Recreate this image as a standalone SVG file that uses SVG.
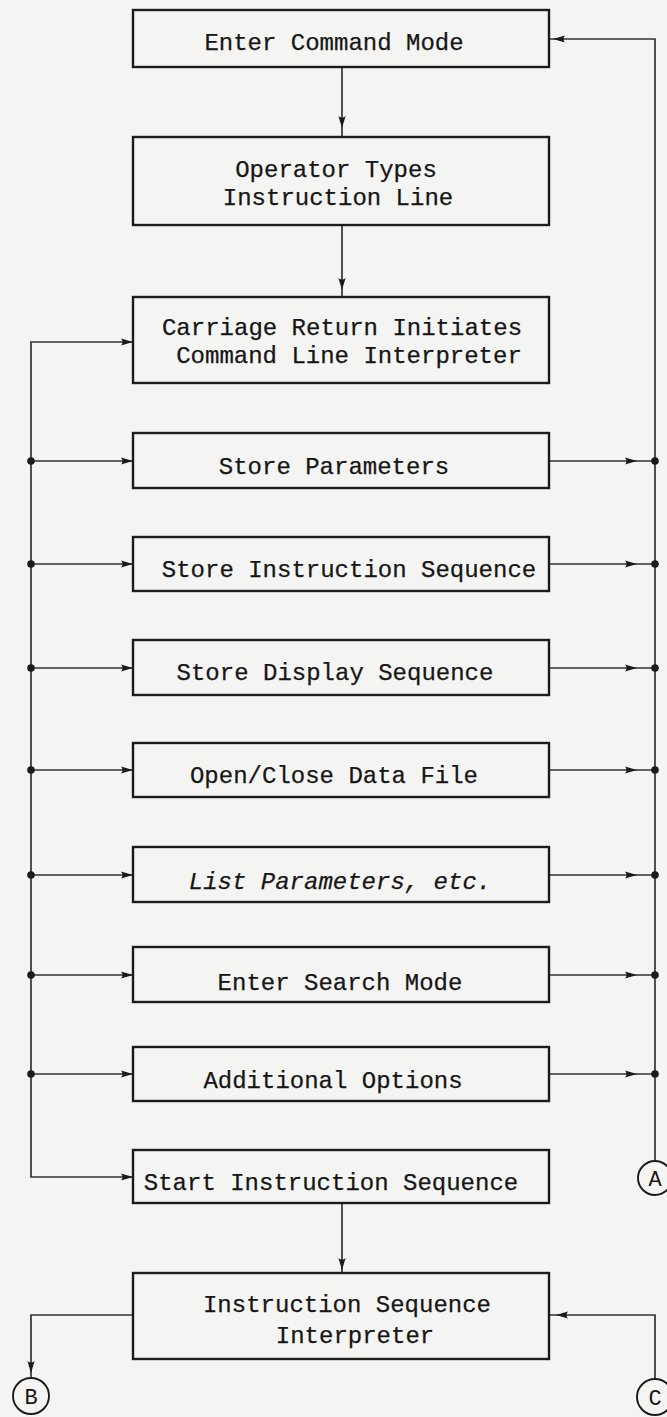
<svg xmlns="http://www.w3.org/2000/svg" width="667" height="1417" viewBox="0 0 667 1417">
  <style>
    .box { fill: none; stroke: #1b1b1b; stroke-width: 2.4; }
    .lbl { font-family: "Liberation Mono", "DejaVu Sans Mono", monospace; font-size: 24px; fill: #161616; text-anchor: middle; stroke: #161616; stroke-width: 0.25; }
    .it { font-style: italic; }
    .wire { fill: none; stroke: #333; stroke-width: 1.7; }
    .ahd { fill: #1b1b1b; }
    .con { fill: none; stroke: #1b1b1b; stroke-width: 1.9; }
    .conlbl { font-family: "Liberation Mono", "DejaVu Sans Mono", monospace; font-size: 22px; fill: #161616; text-anchor: middle; }
  </style>
  <defs>
    <!-- arrowhead, tip at origin, pointing along +x -->
    <path id="ah" d="M0,0 L-12,-3.6 Q-9,0 -12,3.6 Z"/>
    <circle id="dot" r="3.8"/>
  </defs>

  <rect x="0" y="0" width="667" height="1417" fill="#f4f4f2"/>

  <!-- connectors -->
  <g id="connectors">
    <!-- main flow -->
    <path class="wire" d="M342,67 V137"/>
    <path class="wire" d="M342,225 V297"/>
    <path class="wire" d="M342,1203 V1273"/>
    <!-- left distribution bus -->
    <path class="wire" d="M133,342 H31 V1177 H133"/>
    <path class="wire" d="M31,461 H133 M31,564 H133 M31,668 H133 M31,770 H133 M31,875 H133 M31,975 H133 M31,1074 H133"/>
    <!-- right return bus -->
    <path class="wire" d="M549,461 H655 M549,564 H655 M549,668 H655 M549,770 H655 M549,875 H655 M549,975 H655 M549,1074 H655"/>
    <path class="wire" d="M655,1161 V39 H549"/>
    <!-- interpreter exits -->
    <path class="wire" d="M133,1315 H31 V1378"/>
    <path class="wire" d="M655,1379 V1315 H549"/>

    <!-- arrowheads -->
    <g class="ahd">
      <use href="#ah" transform="translate(342,128) rotate(90)"/>
      <use href="#ah" transform="translate(342,290) rotate(90)"/>
      <use href="#ah" transform="translate(342,1270) rotate(90)"/>
      <use href="#ah" transform="translate(31,1373) rotate(90)"/>
      <use href="#ah" transform="translate(553,39) rotate(180)"/>
      <use href="#ah" transform="translate(556,1315) rotate(180)"/>
      <use href="#ah" transform="translate(133,342)"/>
      <use href="#ah" transform="translate(133,461)"/>
      <use href="#ah" transform="translate(133,564)"/>
      <use href="#ah" transform="translate(133,668)"/>
      <use href="#ah" transform="translate(133,770)"/>
      <use href="#ah" transform="translate(133,875)"/>
      <use href="#ah" transform="translate(133,975)"/>
      <use href="#ah" transform="translate(133,1074)"/>
      <use href="#ah" transform="translate(133,1177)"/>
      <use href="#ah" transform="translate(637,461)"/>
      <use href="#ah" transform="translate(637,564)"/>
      <use href="#ah" transform="translate(637,668)"/>
      <use href="#ah" transform="translate(637,770)"/>
      <use href="#ah" transform="translate(637,875)"/>
      <use href="#ah" transform="translate(637,975)"/>
      <use href="#ah" transform="translate(637,1074)"/>
      <!-- junction dots -->
      <use href="#dot" x="31" y="461"/>
      <use href="#dot" x="31" y="564"/>
      <use href="#dot" x="31" y="668"/>
      <use href="#dot" x="31" y="770"/>
      <use href="#dot" x="31" y="875"/>
      <use href="#dot" x="31" y="975"/>
      <use href="#dot" x="31" y="1074"/>
      <use href="#dot" x="655" y="461"/>
      <use href="#dot" x="655" y="564"/>
      <use href="#dot" x="655" y="668"/>
      <use href="#dot" x="655" y="770"/>
      <use href="#dot" x="655" y="875"/>
      <use href="#dot" x="655" y="975"/>
      <use href="#dot" x="655" y="1074"/>
    </g>
  </g>

  <!-- process boxes -->
  <g id="enter-command-mode">
    <rect class="box" x="133" y="10" width="416" height="57"/>
    <text class="lbl" x="334" y="50">Enter Command Mode</text>
  </g>
  <g id="operator-types">
    <rect class="box" x="133" y="137" width="416" height="88"/>
    <text class="lbl" x="336" y="177">Operator Types</text>
    <text class="lbl" x="338" y="205">Instruction Line</text>
  </g>
  <g id="command-line-interpreter">
    <rect class="box" x="133" y="297" width="416" height="86"/>
    <text class="lbl" x="342" y="335">Carriage Return Initiates</text>
    <text class="lbl" x="349" y="363">Command Line Interpreter</text>
  </g>
  <g id="store-parameters">
    <rect class="box" x="133" y="433" width="416" height="55"/>
    <text class="lbl" x="334" y="474">Store Parameters</text>
  </g>
  <g id="store-instruction-sequence">
    <rect class="box" x="133" y="537" width="416" height="54"/>
    <text class="lbl" x="349" y="577">Store Instruction Sequence</text>
  </g>
  <g id="store-display-sequence">
    <rect class="box" x="133" y="640" width="416" height="55"/>
    <text class="lbl" x="335" y="680">Store Display Sequence</text>
  </g>
  <g id="open-close-data-file">
    <rect class="box" x="133" y="743" width="416" height="54"/>
    <text class="lbl" x="334" y="783">Open/Close Data File</text>
  </g>
  <g id="list-parameters">
    <rect class="box" x="133" y="847" width="416" height="55"/>
    <text class="lbl it" x="340" y="889">List Parameters, etc.</text>
  </g>
  <g id="enter-search-mode">
    <rect class="box" x="133" y="947" width="416" height="55"/>
    <text class="lbl" x="340" y="990">Enter Search Mode</text>
  </g>
  <g id="additional-options">
    <rect class="box" x="133" y="1047" width="416" height="54"/>
    <text class="lbl" x="333" y="1088">Additional Options</text>
  </g>
  <g id="start-instruction-sequence">
    <rect class="box" x="133" y="1150" width="416" height="53"/>
    <text class="lbl" x="331" y="1190">Start Instruction Sequence</text>
  </g>
  <g id="instruction-sequence-interpreter">
    <rect class="box" x="133" y="1273" width="416" height="86"/>
    <text class="lbl" x="347" y="1312">Instruction Sequence</text>
    <text class="lbl" x="355" y="1343">Interpreter</text>
  </g>

  <!-- off-page connectors -->
  <g id="connector-a">
    <circle class="con" cx="655" cy="1178" r="17"/>
    <text class="conlbl" x="655" y="1186">A</text>
  </g>
  <g id="connector-b">
    <circle class="con" cx="31" cy="1396" r="18"/>
    <text class="conlbl" x="31" y="1404">B</text>
  </g>
  <g id="connector-c">
    <circle class="con" cx="655" cy="1397" r="18"/>
    <text class="conlbl" x="655" y="1405">C</text>
  </g>
</svg>
